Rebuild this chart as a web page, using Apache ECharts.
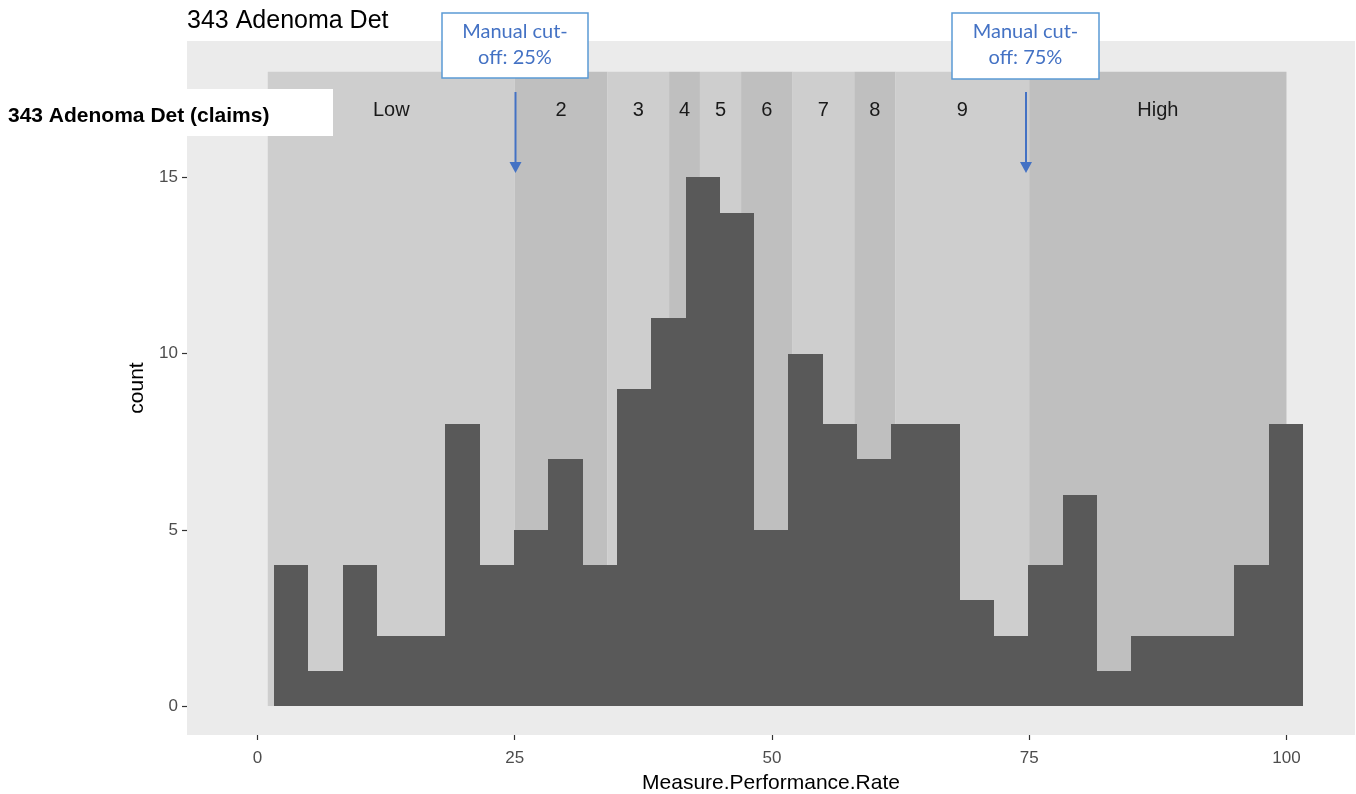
<!DOCTYPE html>
<html>
<head>
<meta charset="utf-8">
<script src="https://cdn.jsdelivr.net/npm/echarts@6/dist/echarts.min.js"></script>
<style>
html,body{margin:0;padding:0;background:#fff;}
#chart{width:1356px;height:794px;}
</style>
</head>
<body>
<div id="chart"></div>
<script>
// ---- data ----
const counts = [4,1,4,2,2,8,4,5,7,4, 9,11,15,14,5,10,8,7,8,8, 3,2,4,6,1,2,2,2,4,8];
const binStart = 1.6;
const binWidth = 3.333;
const bandStarts = [1, 25, 34, 40, 43, 47, 52, 58, 62, 75];
const bandEnds   = [25, 34, 40, 43, 47, 52, 58, 62, 75, 100];
const bandLabels = ['Low','2','3','4','5','6','7','8','9','High'];
const xTicks = [0, 25, 50, 75, 100];
const yTicks = [0, 5, 10, 15];
const bandTop = 18;
const bandLabelY = 16.9;

const bandData = bandStarts.map((s, i) => [s, bandEnds[i], i]);
const barData = counts.map((c, i) => [binStart + i * binWidth, binStart + (i + 1) * binWidth, c]);

const chart = echarts.init(document.getElementById('chart'), null, {renderer: 'canvas'});
const FONT = '"Liberation Sans", Arial, sans-serif';

chart.setOption({
  animation: false,
  backgroundColor: '#ffffff',
  grid: {
    left: 187, right: 1, top: 41, bottom: 59,
    containLabel: false, outerBoundsMode: 'none',
    show: true, backgroundColor: '#EBEBEB', borderWidth: 0
  },
  xAxis: {
    type: 'value', min: -6.85, max: 106.66,
    splitLine: {show: false},
    axisLine: {show: false, onZero: false},
    axisTick: {show: true, customValues: xTicks, length: 5, lineStyle: {color: '#333333', width: 1.2}},
    axisLabel: {customValues: xTicks, color: '#4D4D4D', fontSize: 17, fontFamily: FONT, margin: 15},
    name: 'Measure.Performance.Rate',
    nameLocation: 'middle', nameGap: 38,
    nameTextStyle: {color: '#000000', fontSize: 21, fontFamily: FONT}
  },
  yAxis: {
    type: 'value', min: -0.82, max: 18.87,
    splitLine: {show: false},
    axisLine: {show: false, onZero: false},
    axisTick: {show: true, customValues: yTicks, length: 5, lineStyle: {color: '#333333', width: 1.2}},
    axisLabel: {customValues: yTicks, color: '#4D4D4D', fontSize: 17, fontFamily: FONT, margin: 9},
    name: 'count',
    nameLocation: 'middle', nameGap: 28, nameRotate: 90,
    nameTextStyle: {color: '#000000', fontSize: 21, fontFamily: FONT}
  },
  series: [
    {
      type: 'custom',
      name: 'bands',
      data: bandData,
      silent: true,
      renderItem: function (params, api) {
        const s = api.value(0), e = api.value(1), idx = api.value(2);
        const p0 = api.coord([s, bandTop]);
        const p1 = api.coord([e, 0]);
        const pl = api.coord([(s + e) / 2, bandLabelY]);
        return {
          type: 'group',
          children: [
            {type: 'rect', shape: {x: p0[0], y: p0[1], width: p1[0] - p0[0], height: p1[1] - p0[1]},
             style: {fill: idx % 2 === 0 ? '#CECECE' : '#BFBFBF'}},
            {type: 'text', x: pl[0], y: pl[1],
             style: {text: bandLabels[idx], fill: '#1A1A1A', font: '20px ' + FONT, align: 'center', verticalAlign: 'middle'}}
          ]
        };
      }
    },
    {
      type: 'custom',
      name: 'count',
      data: barData,
      renderItem: function (params, api) {
        const p0 = api.coord([api.value(0), api.value(2)]);
        const p1 = api.coord([api.value(1), 0]);
        const x0 = Math.round(p0[0]);
        const x1 = Math.round(p1[0]);
        const y0 = Math.round(p0[1]);
        const y1 = Math.round(p1[1]);
        return {
          type: 'rect',
          shape: {x: x0, y: y0, width: x1 - x0, height: y1 - y0},
          style: {fill: '#595959'}
        };
      }
    }
  ],
  graphic: [
    {type: 'text', left: 187, top: 9, z: 100,
     style: {text: '343 Adenoma Det', fill: '#000000', font: '25px ' + FONT}},
    {type: 'rect', z: 100, shape: {x: 0, y: 89, width: 333, height: 47}, style: {fill: '#ffffff'}},
    {type: 'text', z: 101, x: 8, y: 116,
     style: {text: '343 Adenoma Det (claims)', fill: '#000000', font: 'bold 21px ' + FONT, verticalAlign: 'middle'}},
    // callout 25%
    {type: 'rect', z: 100, shape: {x: 442, y: 13, width: 146, height: 65}, style: {fill: '#ffffff', stroke: '#5B9BD5', lineWidth: 1.5}},
    {type: 'text', z: 101, x: 515, y: 45,
     style: {text: 'Manual cut-\noff: 25%', fill: '#4472C4', font: '20px Lato, sans-serif', align: 'center', verticalAlign: 'middle', lineHeight: 26}},
    {type: 'line', z: 100, shape: {x1: 515.5, y1: 92, x2: 515.5, y2: 164}, style: {stroke: '#4472C4', lineWidth: 2}},
    {type: 'polygon', z: 100, shape: {points: [[509.5, 162], [521.5, 162], [515.5, 173]]}, style: {fill: '#4472C4'}},
    // callout 75%
    {type: 'rect', z: 100, shape: {x: 952, y: 13, width: 147, height: 66}, style: {fill: '#ffffff', stroke: '#5B9BD5', lineWidth: 1.5}},
    {type: 'text', z: 101, x: 1025.5, y: 45,
     style: {text: 'Manual cut-\noff: 75%', fill: '#4472C4', font: '20px Lato, sans-serif', align: 'center', verticalAlign: 'middle', lineHeight: 26}},
    {type: 'line', z: 100, shape: {x1: 1026, y1: 92, x2: 1026, y2: 164}, style: {stroke: '#4472C4', lineWidth: 2}},
    {type: 'polygon', z: 100, shape: {points: [[1020, 162], [1032, 162], [1026, 173]]}, style: {fill: '#4472C4'}}
  ]
});
</script>
</body>
</html>
